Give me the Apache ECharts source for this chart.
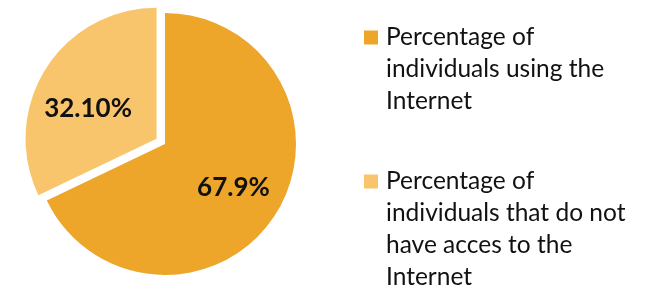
<!DOCTYPE html>
<html>
<head>
<meta charset="utf-8">
<script src="https://cdn.jsdelivr.net/npm/echarts@6/dist/echarts.min.js"></script>
<style>
  html, body { margin: 0; padding: 0; background: #fff; }
  #chart { width: 651px; height: 295px; }
</style>
</head>
<body>
<div id="chart"></div>
<script>
var names = [
	'Percentage of\nindividuals using the\nInternet',
	'Percentage of\nindividuals that do not\nhave acces to the\nInternet'
];
var values = [67.9, 32.1];
var valueLabels = ['67.9%', '32.10%'];
var colors = ['#EDA52A', '#F8C56D'];

var FONT = 'Lato';
var R = 131;
var LINE_H = 32;

var chart = echarts.init(document.getElementById('chart'));

function pieData( withColor )
{
	return values.map(function (v, i) {
		return {
			name: names[i],
			value: v,
			selected: i === 1,
			itemStyle: { color: withColor ? colors[i] : 'rgba(0,0,0,0)' }
		};
	});
}

// text is centred on the icon, so pad with blank lines above
// to bring the first line level with the square
function legendFor( i, top )
{
	var lines = names[i].split('\n');
	var rows = [];
	for (var k = 1; k < lines.length; k++) rows.push('{t| }');
	lines.forEach(function (l) { rows.push('{t|' + l + '}'); });
	var text = rows.join('\n');
	return {
		orient: 'vertical',
		left: 364,
		top: top,
		padding: 0,
		itemWidth: 14,
		itemHeight: 14,
		icon: 'rect',
		selectedMode: false,
		data: [{ name: names[i], itemStyle: { color: colors[i] } }],
		formatter: function () { return text; },
		textStyle: {
			rich: {
				t: {
					fontFamily: FONT,
					fontSize: 24.5,
					color: '#111',
					lineHeight: LINE_H,
					padding: [0, 0, 0, 3]
				}
			}
		}
	};
}

var option = {
	animation: false,
	backgroundColor: '#fff',
	legend: [
		legendFor( 0, -39 ),
		legendFor( 1, 73 )
	],
	series: [
		{
			type: 'pie',
			center: [165, 144],
			radius: [0, R],
			startAngle: 90,
			clockwise: true,
			selectedMode: 'single',
			selectedOffset: 10,
			silent: true,
			label: { show: false },
			labelLine: { show: false },
			data: pieData( true )
		},
		{
			// transparent copy, only used to place the labels further out
			type: 'pie',
			center: [165, 144],
			radius: [0, R * 1.19],
			startAngle: 90,
			clockwise: true,
			selectedMode: 'single',
			selectedOffset: 10,
			silent: true,
			label: {
				show: true,
				position: 'inside',
				fontFamily: FONT,
				fontWeight: 'bold',
				fontSize: 26,
				color: '#111',
				formatter: function (p) { return valueLabels[p.dataIndex]; }
			},
			labelLayout: function (p) {
				return p.dataIndex === 1 ? { dy: 13 } : {};
			},
			labelLine: { show: false },
			data: pieData( false )
		}
	]
};

chart.setOption(option);
</script>
</body>
</html>
